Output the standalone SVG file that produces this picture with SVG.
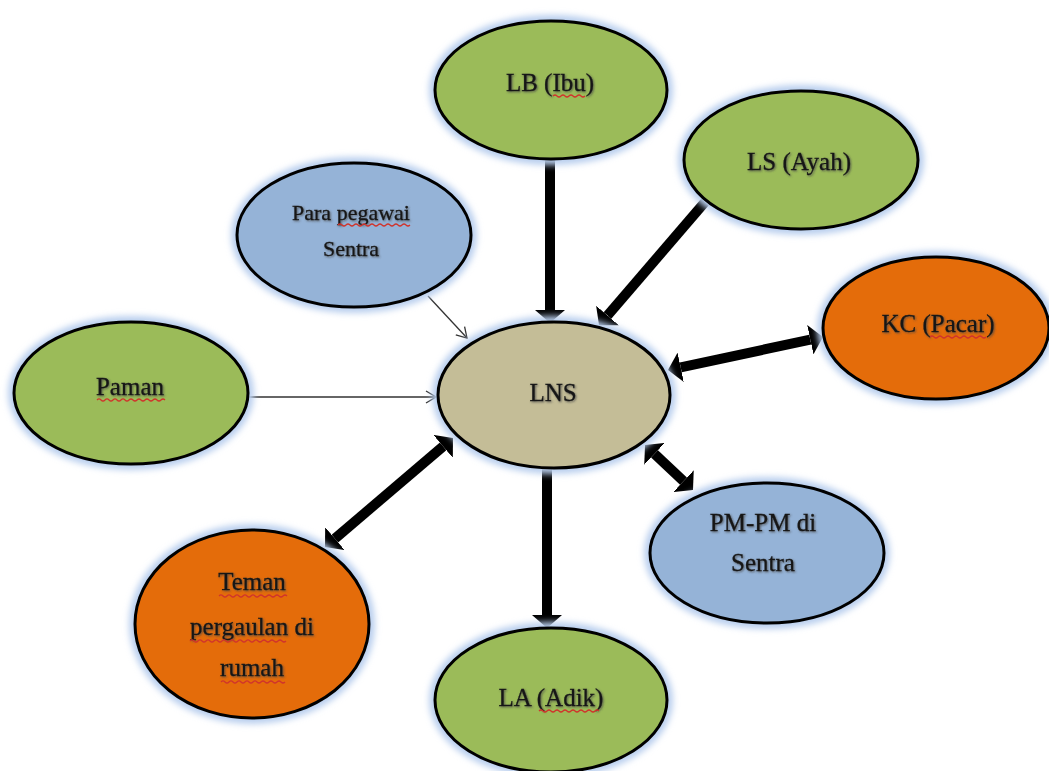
<svg xmlns="http://www.w3.org/2000/svg" width="1049" height="771" viewBox="0 0 1049 771">
<style>
.halo{fill:none;stroke:#b9cfee;stroke-width:12;filter:url(#blur)}
.node{stroke:#000;stroke-width:3}
.green{fill:#9bbb59}.blue{fill:#95b3d7}.orange{fill:#e46c0a}.tan{fill:#c4bd97}
.lbl{font-family:"Liberation Serif","Times New Roman",serif;font-size:25px;fill:#141414;stroke:#141414;stroke-width:0.3;text-anchor:middle;filter:url(#tshadow)}
.sm{font-size:22px}
.thick{stroke:#000;stroke-width:10;fill:none;marker-end:url(#head)}
.both{marker-start:url(#head)}
.thin{stroke:#333;stroke-width:1.3;fill:none;marker-end:url(#open)}
.sq{fill:none;stroke:#d0342c;stroke-width:1.2}
</style>
<defs>
<filter id="blur" x="-20%" y="-20%" width="140%" height="140%"><feGaussianBlur stdDeviation="3"/></filter>
<filter id="tshadow" x="-10%" y="-30%" width="120%" height="160%"><feDropShadow dx="1" dy="1" stdDeviation="0.9" flood-color="#444" flood-opacity="0.8"/></filter>
<marker id="head" viewBox="0 0 1.3 3" refX="0" refY="1.5" markerWidth="1.3" markerHeight="3" markerUnits="strokeWidth" orient="auto-start-reverse"><path d="M0,0 L1.3,1.5 L0,3 Z" fill="#000"/></marker>
<marker id="open" viewBox="-11 -7 12 14" refX="0" refY="0" markerWidth="12" markerHeight="14" markerUnits="userSpaceOnUse" orient="auto"><path d="M-10,-6 L0,0 L-10,6" fill="none" stroke="#333" stroke-width="1.3"/></marker>
</defs>
<rect width="1049" height="771" fill="#fff"/>

<g id="connectors">
<path class="thick" d="M550,160 L550,310"/>
<path class="thick" d="M705,202 L607.5,315.5"/>
<path class="thick" d="M547,468 L547,615"/>
<path class="thick both" d="M680.7,367.3 L810.3,339.7"/>
<path class="thick both" d="M654.5,453.9 L683.5,481.1"/>
<path class="thick both" d="M443.1,446.4 L334.9,538.6"/>
<path class="thin" d="M248,397 L436,397"/>
<path class="thin" d="M428,296 L467,338"/>
</g>

<g id="node-lb">
<ellipse class="halo" cx="551" cy="90" rx="116" ry="69"/>
<ellipse class="node green" cx="551" cy="90" rx="116" ry="69"/>
<text class="lbl" x="550" y="91">LB (Ibu)</text>
<path class="sq" d="M553,96 q2,-2 4,0 t4,0 t4,0 t4,0 t4,0 t4,0 t4,0 t4,0"/>
</g>
<g id="node-ls">
<ellipse class="halo" cx="801" cy="160" rx="117" ry="69"/>
<ellipse class="node green" cx="801" cy="160" rx="117" ry="69"/>
<text class="lbl" x="799" y="170">LS (Ayah)</text>
</g>
<g id="node-para">
<ellipse class="halo" cx="354" cy="235" rx="117" ry="72"/>
<ellipse class="node blue" cx="354" cy="235" rx="117" ry="72"/>
<text class="lbl sm" x="351" y="220">Para pegawai</text>
<text class="lbl sm" x="351" y="256">Sentra</text>
<path class="sq" d="M338,225 q2,-2 4,0 t4,0 t4,0 t4,0 t4,0 t4,0 t4,0 t4,0 t4,0 t4,0 t4,0 t4,0 t4,0 t4,0 t4,0 t4,0 t4,0 t4,0"/>
</g>
<g id="node-paman">
<ellipse class="halo" cx="131" cy="393" rx="117" ry="71"/>
<ellipse class="node green" cx="131" cy="393" rx="117" ry="71"/>
<text class="lbl" x="130" y="395">Paman</text>
<path class="sq" d="M97,400 q2,-2 4,0 t4,0 t4,0 t4,0 t4,0 t4,0 t4,0 t4,0 t4,0 t4,0 t4,0 t4,0 t4,0 t4,0 t4,0 t4,0 t4,0"/>
</g>
<g id="node-lns">
<ellipse class="halo" cx="554" cy="395" rx="116" ry="73"/>
<ellipse class="node tan" cx="554" cy="395" rx="116" ry="73"/>
<text class="lbl" x="553" y="401">LNS</text>
</g>
<g id="node-kc">
<ellipse class="halo" cx="936" cy="328" rx="113" ry="71"/>
<ellipse class="node orange" cx="936" cy="328" rx="113" ry="71"/>
<text class="lbl" x="938" y="332">KC (Pacar)</text>
<path class="sq" d="M930,337 q2,-2 4,0 t4,0 t4,0 t4,0 t4,0 t4,0 t4,0 t4,0 t4,0 t4,0 t4,0 t4,0 t4,0 t4,0"/>
</g>
<g id="node-pm">
<ellipse class="halo" cx="767" cy="553" rx="117" ry="70"/>
<ellipse class="node blue" cx="767" cy="553" rx="117" ry="70"/>
<text class="lbl" x="763" y="531">PM-PM di</text>
<text class="lbl" x="763" y="571">Sentra</text>
</g>
<g id="node-teman">
<ellipse class="halo" cx="252" cy="624" rx="117" ry="94"/>
<ellipse class="node orange" cx="252" cy="624" rx="117" ry="94"/>
<text class="lbl" x="252" y="590">Teman</text>
<text class="lbl" x="252" y="635">pergaulan di</text>
<text class="lbl" x="252" y="676">rumah</text>
<path class="sq" d="M219,596 q2,-2 4,0 t4,0 t4,0 t4,0 t4,0 t4,0 t4,0 t4,0 t4,0 t4,0 t4,0 t4,0 t4,0 t4,0 t4,0 t4,0 t4,0"/>
<path class="sq" d="M190,641 q2,-2 4,0 t4,0 t4,0 t4,0 t4,0 t4,0 t4,0 t4,0 t4,0 t4,0 t4,0 t4,0 t4,0 t4,0 t4,0 t4,0 t4,0 t4,0 t4,0 t4,0 t4,0 t4,0 t4,0 t4,0"/>
<path class="sq" d="M221,682 q2,-2 4,0 t4,0 t4,0 t4,0 t4,0 t4,0 t4,0 t4,0 t4,0 t4,0 t4,0 t4,0 t4,0 t4,0 t4,0 t4,0"/>
</g>
<g id="node-la">
<ellipse class="halo" cx="551" cy="700" rx="116" ry="72"/>
<ellipse class="node green" cx="551" cy="700" rx="116" ry="72"/>
<text class="lbl" x="551" y="706">LA (Adik)</text>
<path class="sq" d="M539,711 q2,-2 4,0 t4,0 t4,0 t4,0 t4,0 t4,0 t4,0 t4,0 t4,0 t4,0 t4,0 t4,0 t4,0 t4,0 t4,0"/>
</g>
</svg>
